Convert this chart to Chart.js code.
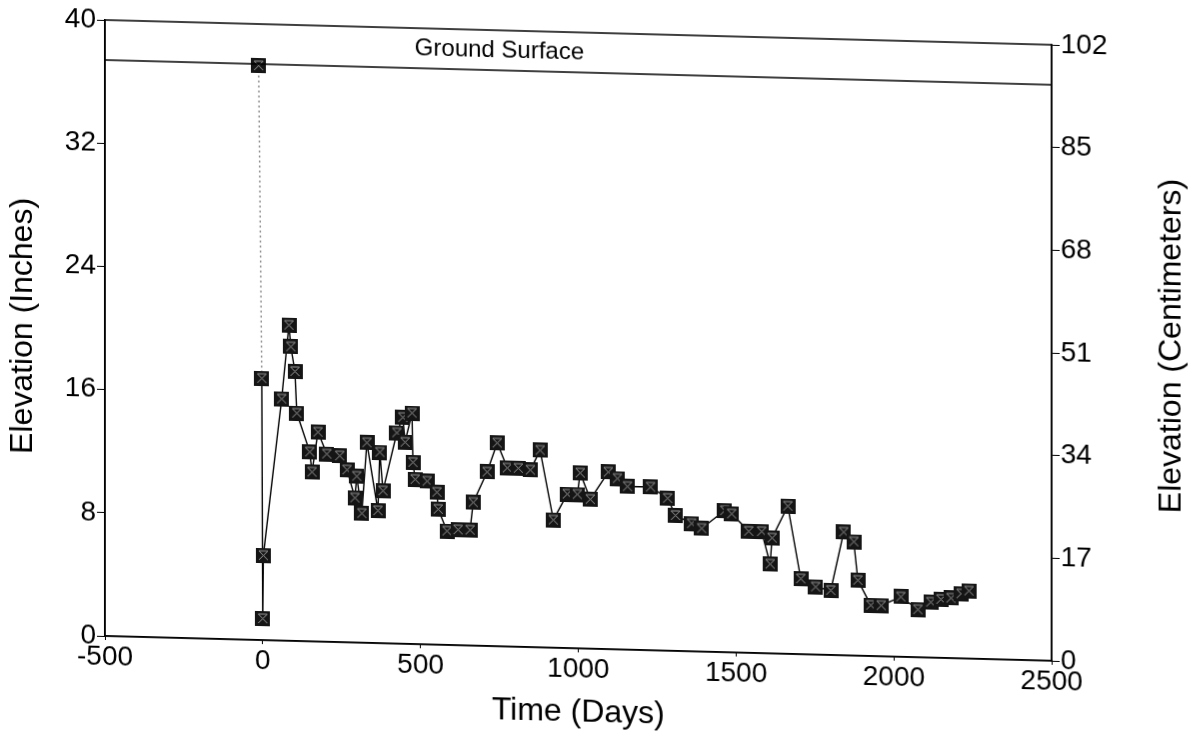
<!DOCTYPE html>
<html>
<head>
<meta charset="utf-8">
<script src="https://cdn.jsdelivr.net/npm/chart.js@4"></script>
<style>
  html, body { margin: 0; padding: 0; background: #fff; }
  #chart { display: block; transform: skewY(1.5deg); transform-origin: 105px 636px; }
</style>
</head>
<body>
<canvas id="chart" width="1204" height="736"></canvas>
<script>
// elevation readings (inches) vs days
const timeDays = [-13, -3, 0, 2, 60, 83, 89, 102, 108, 149, 156, 175, 203, 244, 267, 292, 298, 314, 330, 365,
  371, 381, 425, 444, 451, 473, 476, 483, 521, 552, 556, 584, 619, 657, 667, 711, 743, 775, 810, 848,
  879, 921, 965, 997, 1006, 1038, 1095, 1124, 1156, 1229, 1283, 1308, 1359, 1391, 1464, 1486, 1540, 1581, 1608, 1614,
  1664, 1705, 1752, 1800, 1841, 1873, 1886, 1927, 1960, 2022, 2076, 2117, 2149, 2181, 2213, 2238];
const elevationIn = [37.3, 17.0, 1.4, 5.5, 15.7, 20.5, 19.1, 17.5, 14.8, 12.3, 11.0, 13.6, 12.2, 12.1, 11.2, 9.4, 10.8, 8.4, 13.0, 8.6,
  12.4, 9.9, 13.7, 14.7, 13.1, 15.0, 11.8, 10.7, 10.6, 9.9, 8.8, 7.4, 7.5, 7.5, 9.3, 11.3, 13.2, 11.6, 11.6, 11.5,
  12.8, 8.3, 10.0, 10.0, 11.4, 9.7, 11.5, 11.1, 10.6, 10.6, 9.9, 8.8, 8.3, 8.0, 9.2, 9.0, 7.9, 7.9, 5.8, 7.5,
  9.6, 4.9, 4.4, 4.2, 8.0, 7.4, 4.9, 3.3, 3.3, 3.9, 3.1, 3.6, 3.8, 3.9, 4.2, 4.4];

const groundX = [-500, 2500];
const groundY = [37.4, 37.4];
const groundLabel = 'Ground Surface';
const groundLabelAt = [750, 38.7];
const rightTitle = 'Elevation (Centimeters)';

const FONT = "'Liberation Sans', Arial, sans-serif";

// square marker with a light cross, like the plotted symbol
function makeMarker() {
  const c = document.createElement('canvas');
  c.width = 15; c.height = 15;
  const g = c.getContext('2d');
  g.fillStyle = '#151515';
  g.fillRect(0, 0, 15, 15);
  g.strokeStyle = '#9a9a9a';
  g.lineWidth = 1;
  g.beginPath();
  g.moveTo(3, 3); g.lineTo(12, 12);
  g.moveTo(12, 3); g.lineTo(3, 12);
  g.moveTo(3, 3); g.lineTo(12, 3);
  g.stroke();
  return c;
}

const framePlugin = {
  id: 'frame',
  afterDatasetsDraw(chart) {
    const { ctx, chartArea: a, scales } = chart;
    ctx.save();
    ctx.strokeStyle = '#000';
    ctx.lineWidth = 1.5;
    ctx.strokeRect(a.left, a.top, a.right - a.left, a.bottom - a.top);
    ctx.fillStyle = '#000';
    ctx.font = '24px ' + FONT;
    ctx.textAlign = 'center';
    ctx.textBaseline = 'middle';
    ctx.fillText(groundLabel, scales.x.getPixelForValue(groundLabelAt[0]), scales.y.getPixelForValue(groundLabelAt[1]));
    // right axis title reads bottom-to-top, same as the left one
    ctx.translate(a.right + 120, (a.top + a.bottom) / 2 - 10);
    ctx.rotate(-Math.PI / 2);
    ctx.font = '32px ' + FONT;
    ctx.fillText(rightTitle, 0, 0);
    ctx.restore();
  },
};

const plainTick = v => String(v);

new Chart(document.getElementById('chart'), {
  type: 'scatter',
  data: {
    datasets: [
      {
        label: 'Ground Surface',
        data: groundX.map((x, i) => ({ x, y: groundY[i] })),
        showLine: true,
        borderColor: '#000',
        borderWidth: 1.5,
        pointRadius: 0,
      },
      {
        label: 'Elevation',
        data: timeDays.map((x, i) => ({ x, y: elevationIn[i] })),
        showLine: true,
        borderColor: '#000',
        borderWidth: 1.4,
        pointStyle: makeMarker(),
        segment: {
          borderDash: c => (c.p0DataIndex === 0 ? [2, 3] : undefined),
          borderColor: c => (c.p0DataIndex === 0 ? '#888' : undefined),
        },
      },
    ],
  },
  plugins: [framePlugin],
  options: {
    responsive: false,
    animation: false,
    layout: { padding: { top: 20, right: 0, left: 4, bottom: 17 } },
    plugins: { legend: { display: false }, tooltip: { enabled: false } },
    scales: {
      x: {
        type: 'linear',
        min: -500,
        max: 2500,
        ticks: { stepSize: 500, color: '#000', font: { family: FONT, size: 28 }, padding: 0, maxRotation: 0, callback: plainTick },
        grid: { drawOnChartArea: false, tickLength: 4, color: '#000' },
        border: { color: '#000', width: 1.5 },
        title: { display: true, text: 'Time (Days)', color: '#000', font: { family: FONT, size: 32 }, padding: 0 },
        afterFit: s => { s.height = 83; },
      },
      y: {
        position: 'left',
        min: 0,
        max: 40,
        ticks: { stepSize: 8, color: '#000', font: { family: FONT, size: 28 }, padding: 1, callback: plainTick },
        grid: { drawOnChartArea: false, tickLength: 8, color: '#000' },
        border: { color: '#000', width: 1.5 },
        title: { display: true, text: 'Elevation (Inches)', color: '#000', font: { family: FONT, size: 32 }, padding: 0 },
        afterFit: s => { s.width = 101; },
      },
      y1: {
        position: 'right',
        min: 0,
        max: 102,
        ticks: { stepSize: 17, color: '#000', font: { family: FONT, size: 28 }, padding: 1, callback: plainTick },
        grid: { drawOnChartArea: false, tickLength: 8, color: '#000' },
        border: { color: '#000', width: 1.5 },
        afterFit: s => { s.width = 152; },
      },
    },
  },
});
</script>
</body>
</html>
